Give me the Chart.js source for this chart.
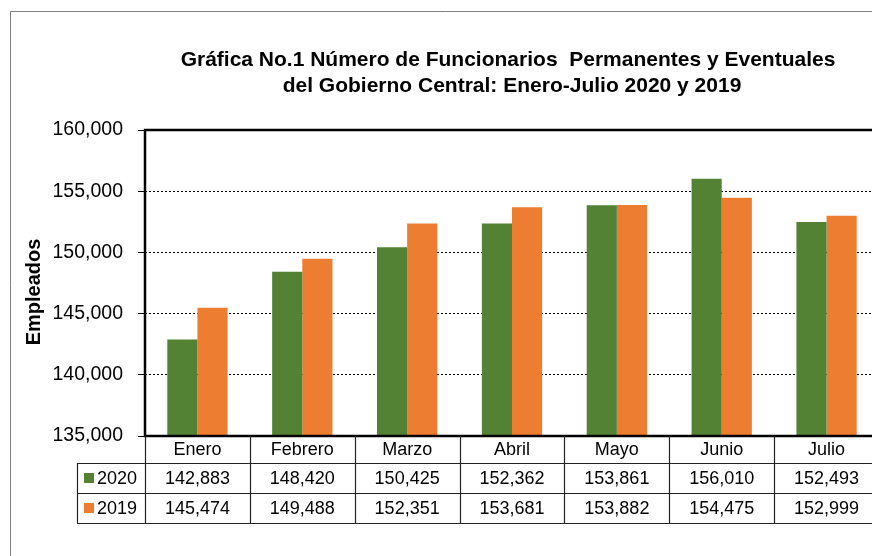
<!DOCTYPE html>
<html>
<head>
<meta charset="utf-8">
<script src="https://cdn.jsdelivr.net/npm/chart.js@4.4.0/dist/chart.umd.min.js"></script>
<style>
  html, body { margin: 0; padding: 0; background: #fff; overflow: hidden; }
  #wrap { width: 880px; height: 556px; }
</style>
</head>
<body>
<div id="wrap"><canvas id="chart" width="880" height="556"></canvas></div>
<script>
  const MONTHS = ["Enero", "Febrero", "Marzo", "Abril", "Mayo", "Junio", "Julio"];
  const SERIES_2020 = [142883, 148420, 150425, 152362, 153861, 156010, 152493];
  const SERIES_2019 = [145474, 149488, 152351, 153681, 153882, 154475, 152999];
  const Y_MIN = 135000;
  const Y_MAX = 160000;
  const Y_STEP = 5000;

  const GREEN = "#548235";
  const ORANGE = "#ED7D31";
  const FONT = "'Liberation Sans', Arial, sans-serif";

  function fmt(v) {
    return Number(v).toLocaleString("en-US");
  }

  // ── Frame, titles and data table ────────────────────────────────
  const decorPlugin = {
    id: "decor",
    beforeDraw(chart) {
      const ctx = chart.ctx;
      ctx.save();
      // outer chart border (clipped at right/bottom like the original)
      ctx.strokeStyle = "#808080";
      ctx.lineWidth = 1;
      ctx.beginPath();
      ctx.moveTo(10.5, 600);
      ctx.lineTo(10.5, 11.5);
      ctx.lineTo(900, 11.5);
      ctx.stroke();
      ctx.restore();
    },
    afterDraw(chart) {
      const ctx = chart.ctx;
      const area = chart.chartArea;
      const xs = chart.scales.x;
      ctx.save();

      // title
      ctx.fillStyle = "#000";
      ctx.font = "bold 21px " + FONT;
      ctx.textAlign = "center";
      ctx.textBaseline = "alphabetic";
      ctx.fillText("Gráfica No.1 Número de Funcionarios  Permanentes y Eventuales", 508, 66);
      ctx.fillText("del Gobierno Central: Enero-Julio 2020 y 2019", 512, 92);

      // y axis title
      ctx.font = "bold 20px " + FONT;
      ctx.save();
      ctx.translate(40, 292);
      ctx.rotate(-Math.PI / 2);
      ctx.textBaseline = "alphabetic";
      ctx.fillText("Empleados", 0, 0);
      ctx.restore();

      // plot frame
      ctx.strokeStyle = "#000";
      ctx.lineWidth = 2.5;
      ctx.beginPath();
      ctx.moveTo(area.right + 5, area.top);
      ctx.lineTo(area.left, area.top);
      ctx.lineTo(area.left, area.bottom);
      ctx.lineTo(area.right + 5, area.bottom);
      ctx.stroke();

      // data table
      const rowTop = area.bottom;
      const rows = [rowTop, 463, 493, 523];
      const legendLeft = 77;
      const bounds = [area.left];
      for (let i = 0; i < MONTHS.length - 1; i++) {
        bounds.push((xs.getPixelForValue(i) + xs.getPixelForValue(i + 1)) / 2);
      }
      bounds.push(area.right);

      ctx.strokeStyle = "#222";
      ctx.lineWidth = 1.2;
      ctx.beginPath();
      for (let r = 1; r < rows.length; r++) {
        ctx.moveTo(legendLeft, rows[r] + 0.5);
        ctx.lineTo(900, rows[r] + 0.5);
      }
      ctx.moveTo(legendLeft + 0.5, rows[1]);
      ctx.lineTo(legendLeft + 0.5, rows[3]);
      bounds.forEach(function (b) {
        ctx.moveTo(Math.round(b) + 0.5, rowTop);
        ctx.lineTo(Math.round(b) + 0.5, rows[3]);
      });
      ctx.stroke();

      ctx.font = "18px " + FONT;
      ctx.textAlign = "center";
      ctx.textBaseline = "middle";
      ctx.fillStyle = "#000";
      MONTHS.forEach(function (m, i) {
        const cx = xs.getPixelForValue(i);
        ctx.fillText(m, cx, (rows[0] + rows[1]) / 2 + 1);
        ctx.fillText(fmt(SERIES_2020[i]), cx, (rows[1] + rows[2]) / 2 + 1);
        ctx.fillText(fmt(SERIES_2019[i]), cx, (rows[2] + rows[3]) / 2 + 1);
      });

      // legend keys in table
      const keys = [["2020", GREEN], ["2019", ORANGE]];
      keys.forEach(function (k, j) {
        const cy = (rows[j + 1] + rows[j + 2]) / 2;
        ctx.fillStyle = k[1];
        ctx.fillRect(84, cy - 5, 10, 10);
        ctx.fillStyle = "#000";
        ctx.textAlign = "left";
        ctx.fillText(k[0], 97, cy + 1);
      });

      ctx.restore();
    },
  };

  new Chart(document.getElementById("chart"), {
    type: "bar",
    data: {
      labels: MONTHS,
      datasets: [
        { label: "2020", data: SERIES_2020, backgroundColor: GREEN, borderWidth: 0 },
        { label: "2019", data: SERIES_2019, backgroundColor: ORANGE, borderWidth: 0 },
      ],
    },
    options: {
      responsive: false,
      animation: false,
      layout: { padding: { top: 130, left: 0, right: 1, bottom: 0 } },
      datasets: {
        bar: { categoryPercentage: 0.575, barPercentage: 1 },
      },
      plugins: {
        legend: { display: false },
        title: { display: false },
        tooltip: { enabled: false },
      },
      scales: {
        x: {
          ticks: { display: false },
          grid: { display: false },
          border: { display: false },
          afterFit: function (scale) { scale.height = 120; },
        },
        y: {
          min: Y_MIN,
          max: Y_MAX,
          ticks: {
            stepSize: Y_STEP,
            color: "#000",
            padding: 15,
            font: { family: FONT, size: 19.5 },
            callback: function (v) { return fmt(v); },
          },
          grid: {
            color: "#000",
            lineWidth: 1,
            tickLength: 7,
            tickColor: "#000",
          },
          border: { display: false, dash: [2, 2] },
          afterFit: function (scale) { scale.width = 145; },
        },
      },
    },
    plugins: [decorPlugin],
  });
</script>
</body>
</html>
